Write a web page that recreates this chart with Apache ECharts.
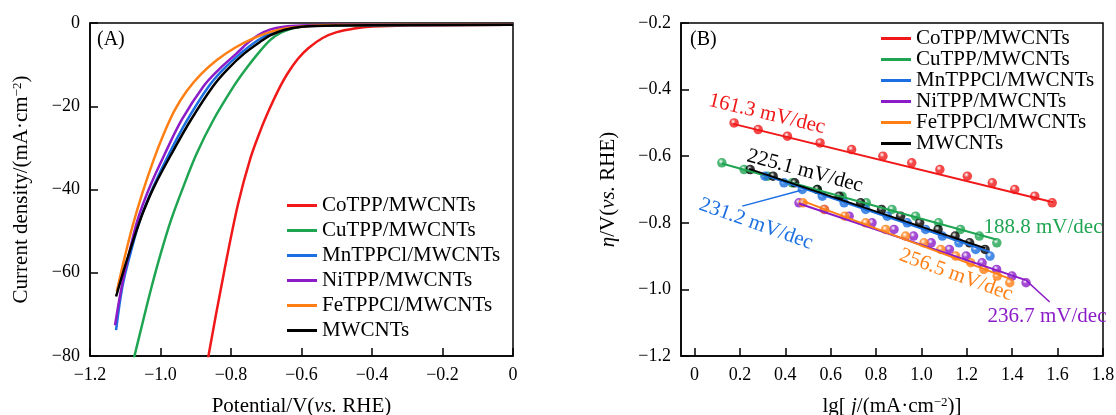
<!DOCTYPE html>
<html>
<head>
<meta charset="utf-8">
<script src="https://cdn.jsdelivr.net/npm/echarts@6/dist/echarts.min.js"></script>
<style>
html, body { margin: 0; padding: 0; background: #fff; }
#chart { width: 1116px; height: 415px; }
</style>
</head>
<body>
<div id="chart"></div>
<script>
// series names / colours (same order in both panels)
var names = ['CoTPP/MWCNTs', 'CuTPP/MWCNTs', 'MnTPPCl/MWCNTs', 'NiTPP/MWCNTs', 'FeTPPCl/MWCNTs', 'MWCNTs'];
var colors = ['#f01818', '#1fa552', '#1b6fe0', '#8c1cc8', '#ff7f14', '#000000'];

// (A) polarization curves: potential (V vs RHE) / current density (mA cm-2)
var coV = [-0.875, -0.864, -0.82, -0.78, -0.745, -0.715, -0.69, -0.665, -0.64, -0.61, -0.58, -0.54, -0.50, -0.45, -0.40, -0.30, 0];
var coJ = [-86, -80, -60, -43.5, -32.5, -25.5, -20.5, -16.0, -12.2, -8.6, -6.0, -3.6, -2.2, -1.3, -0.85, -0.6, -0.45];
var cuV = [-1.079, -1.049, -1.025, -0.999, -0.970, -0.935, -0.897, -0.850, -0.793, -0.760, -0.723, -0.689, -0.66, -0.63, -0.60, -0.55, 0];
var cuJ = [-81.8, -71.4, -63.3, -55.3, -47.3, -39.3, -31.3, -23.3, -15.3, -11.3, -7.3, -4.1, -2.4, -1.4, -0.9, -0.6, -0.4];
var mnV = [-1.126, -1.108, -1.085, -1.058, -1.020, -0.975, -0.924, -0.864, -0.824, -0.773, -0.723, -0.689, -0.65, -0.60, -0.50, 0];
var mnJ = [-73.8, -63.3, -55.3, -47.3, -39.3, -31.3, -23.3, -15.3, -11.3, -7.3, -4.1, -2.5, -1.4, -0.8, -0.55, -0.4];
var niV = [-1.129, -1.110, -1.089, -1.065, -1.030, -0.987, -0.940, -0.879, -0.836, -0.784, -0.75, -0.72, -0.69, -0.65, -0.60, -0.50, 0];
var niJ = [-72.6, -63.3, -55.3, -47.3, -39.3, -31.3, -23.3, -15.3, -11.3, -7.3, -4.6, -2.8, -1.6, -0.9, -0.6, -0.45, -0.4];
var feV = [-1.124, -1.112, -1.098, -1.080, -1.052, -1.020, -0.990, -0.960, -0.925, -0.885, -0.840, -0.790, -0.740, -0.690, -0.64, -0.58, -0.50, 0];
var feJ = [-64.5, -60, -55, -49, -41, -33, -26.5, -21, -16.3, -12.3, -8.9, -6.0, -3.8, -2.2, -1.2, -0.7, -0.5, -0.4];
var mwV = [-1.126, -1.100, -1.075, -1.050, -1.018, -0.968, -0.914, -0.852, -0.812, -0.762, -0.710, -0.689, -0.65, -0.60, -0.50, 0];
var mwJ = [-65.7, -58.2, -51.6, -45.6, -39.3, -31.3, -23.3, -15.3, -11.3, -7.3, -4.1, -3.0, -1.7, -0.9, -0.6, -0.4];

// (B) Tafel plots: lg j and overpotential
var coLg = [0.174, 0.280, 0.409, 0.553, 0.692, 0.830, 0.957, 1.081, 1.202, 1.312, 1.411, 1.499, 1.576];
var coEta = [-0.50, -0.52, -0.54, -0.56, -0.58, -0.60, -0.62, -0.64, -0.66, -0.68, -0.70, -0.72, -0.74];
var cuLg = [0.120, 0.218, 0.322, 0.430, 0.540, 0.650, 0.757, 0.870, 0.974, 1.075, 1.172, 1.255, 1.332];
var cuEta = [-0.62, -0.64, -0.66, -0.68, -0.70, -0.72, -0.74, -0.76, -0.78, -0.80, -0.82, -0.84, -0.86];
var mnLg = [0.310, 0.394, 0.475, 0.563, 0.659, 0.754, 0.849, 0.937, 1.018, 1.092, 1.165, 1.239, 1.302];
var mnEta = [-0.66, -0.68, -0.70, -0.72, -0.74, -0.76, -0.78, -0.80, -0.82, -0.84, -0.86, -0.88, -0.90];
var niLg = [0.460, 0.572, 0.681, 0.782, 0.879, 0.965, 1.043, 1.123, 1.197, 1.267, 1.331, 1.399, 1.461];
var niEta = [-0.74, -0.76, -0.78, -0.80, -0.82, -0.84, -0.86, -0.88, -0.90, -0.92, -0.94, -0.96, -0.98];
var feLg = [0.478, 0.572, 0.662, 0.754, 0.842, 0.930, 1.011, 1.085, 1.151, 1.217, 1.275, 1.334, 1.389];
var feEta = [-0.74, -0.76, -0.78, -0.80, -0.82, -0.84, -0.86, -0.88, -0.90, -0.92, -0.94, -0.96, -0.98];
var mwLg = [0.245, 0.346, 0.441, 0.541, 0.637, 0.732, 0.824, 0.908, 0.992, 1.073, 1.148, 1.212, 1.280];
var mwEta = [-0.64, -0.66, -0.68, -0.70, -0.72, -0.74, -0.76, -0.78, -0.80, -0.82, -0.84, -0.86, -0.88];

// fitted lines (end points)
var coFitLg = [0.17, 1.58], coFitEta = [-0.503, -0.738];
var cuFitLg = [0.12, 1.33], cuFitEta = [-0.622, -0.850];
var mnFitLg = [0.30, 1.30], mnFitEta = [-0.655, -0.887];
var niFitLg = [0.46, 1.46], niFitEta = [-0.742, -0.972];
var feFitLg = [0.478, 1.385], feFitEta = [-0.735, -0.967];
var mwFitLg = [0.24, 1.28], mwFitEta = [-0.638, -0.876];
// leader lines to the slope labels
var mnLeadLg = [0.21, 0.47], mnLeadEta = [-0.750, -0.702];
var niLeadLg = [1.46, 1.565], niLeadEta = [-0.972, -1.038];

var slopeLabels = ['161.3 mV/dec', '188.8 mV/dec', '231.2 mV/dec', '236.7 mV/dec', '256.5 mV/dec', '225.1 mV/dec'];
var tafelTicks = [0, 0.2, 0.4, 0.6, 0.8, 1.0, 1.2, 1.4, 1.6, 1.8];

var font = 'Liberation Serif';

function pairs(xs, ys) {
  return xs.map(function (x, i) { return [x, ys[i]]; });
}
function minus(s) { return String(s).replace('-', '\u2212'); }

var lsvV = [coV, cuV, mnV, niV, feV, mwV];
var lsvJ = [coJ, cuJ, mnJ, niJ, feJ, mwJ];
var tLg = [coLg, cuLg, mnLg, niLg, feLg, mwLg];
var tEta = [coEta, cuEta, mnEta, niEta, feEta, mwEta];
var fLg = [coFitLg, cuFitLg, mnFitLg, niFitLg, feFitLg, mwFitLg];
var fEta = [coFitEta, cuFitEta, mnFitEta, niFitEta, feFitEta, mwFitEta];

var axisCommon = {
  axisLine: { show: true, onZero: false, lineStyle: { color: '#000', width: 1.5 } },
  axisTick: { show: true, inside: true, length: 8, lineStyle: { color: '#000', width: 1.5 } },
  splitLine: { show: false },
  axisLabel: { color: '#000', fontFamily: font, fontSize: 18 }
};
var nameStyle = {
  color: '#000', fontFamily: font, fontSize: 21,
  rich: {
    n: { fontFamily: font, fontSize: 21, color: '#000' },
    i: { fontFamily: font, fontSize: 21, fontStyle: 'italic', color: '#000' },
    s: { fontFamily: font, fontSize: 13, color: '#000', verticalAlign: 'top' }
  }
};
function ax(extra) {
  return Object.assign({}, JSON.parse(JSON.stringify(axisCommon)), extra);
}

var series = [];
for (var k = 0; k < 6; k++) {
  series.push({
    name: names[k], type: 'line', xAxisIndex: 0, yAxisIndex: 0,
    data: pairs(lsvV[k], lsvJ[k]), showSymbol: false, smooth: 0.35,
    color: colors[k], lineStyle: { width: 2.5, color: colors[k] }
  });
}
for (var k = 0; k < 6; k++) {
  series.push({
    name: names[k], type: 'line', xAxisIndex: 1, yAxisIndex: 1,
    data: pairs(fLg[k], fEta[k]), showSymbol: false,
    color: colors[k], lineStyle: { width: 2, color: colors[k] }
  });
  series.push({
    name: names[k], type: 'scatter', xAxisIndex: 1, yAxisIndex: 1,
    data: pairs(tLg[k], tEta[k]), symbolSize: 9.5,
    itemStyle: {
      color: {
        type: 'radial', x: 0.4, y: 0.35, r: 0.6,
        colorStops: [{ offset: 0, color: '#ffffff' }, { offset: 0.45, color: colors[k] }, { offset: 1, color: colors[k] }]
      }
    }
  });
}
series.push({ type: 'line', xAxisIndex: 1, yAxisIndex: 1, data: pairs(mnLeadLg, mnLeadEta), showSymbol: false, lineStyle: { width: 1.5, color: colors[2] } });
series.push({ type: 'line', xAxisIndex: 1, yAxisIndex: 1, data: pairs(niLeadLg, niLeadEta), showSymbol: false, lineStyle: { width: 1.5, color: colors[3] } });

function deg(d) { return d * Math.PI / 180; }
function slopeText(txt, color, x, y, rot) {
  return {
    type: 'text', x: x, y: y, rotation: deg(rot),
    style: { text: txt, fill: color, font: '21px "' + font + '"', align: 'center', verticalAlign: 'middle' }
  };
}

var legendCommon = {
  data: names, orient: 'vertical', icon: 'rect', itemWidth: 30, itemHeight: 3,
  selectedMode: false, padding: 0,
  textStyle: { color: '#000', fontFamily: font, fontSize: 21, lineHeight: 20 }
};

var option = {
  animation: false,
  backgroundColor: '#fff',
  grid: [
    { left: 90, top: 23, width: 423, height: 333, show: true, borderColor: '#000', borderWidth: 1.5, outerBoundsMode: 'none' },
    { left: 681, top: 23, width: 422, height: 333, show: true, borderColor: '#000', borderWidth: 1.5, outerBoundsMode: 'none' }
  ],
  legend: [
    Object.assign({}, legendCommon, { left: 287, top: 195, itemGap: 4 }),
    Object.assign({}, legendCommon, { left: 881, top: 28, itemGap: 0 })
  ],
  xAxis: [
    ax({
      type: 'value', gridIndex: 0, min: -1.2, max: 0, interval: 0.2,
      name: '{n|Potential/V(}{i|vs.}{n| RHE)}', nameLocation: 'middle', nameGap: 40, nameTextStyle: nameStyle,
      axisLabel: { color: '#000', fontFamily: font, fontSize: 18, margin: 10,
        formatter: function (v) { return v === 0 ? '0' : minus(v.toFixed(1)); } }
    }),
    ax({
      type: 'value', gridIndex: 1, min: -0.06, max: 1.8,
      name: '{n|lg[ }{i|j}{n|/(mA\u00b7cm}{s|\u22122}{n|)]}', nameLocation: 'middle', nameGap: 40, nameTextStyle: nameStyle,
      axisTick: { show: true, inside: true, length: 8, customValues: tafelTicks, lineStyle: { color: '#000', width: 1.5 } },
      axisLabel: { color: '#000', fontFamily: font, fontSize: 18, margin: 10, customValues: tafelTicks,
        formatter: function (v) { return v === 0 ? '0' : v.toFixed(1); } }
    })
  ],
  yAxis: [
    ax({
      type: 'value', gridIndex: 0, min: -80, max: 0, interval: 20,
      name: '{n|Current density/(mA\u00b7cm}{s|\u22122}{n|)}', nameLocation: 'middle', nameGap: 58, nameTextStyle: nameStyle,
      axisLabel: { color: '#000', fontFamily: font, fontSize: 18, margin: 10,
        formatter: function (v) { return minus(v); } }
    }),
    ax({
      type: 'value', gridIndex: 1, min: -1.2, max: -0.2, interval: 0.2,
      name: '{i|\u03b7}{n|/V(}{i|vs.}{n| RHE)}', nameLocation: 'middle', nameGap: 62, nameTextStyle: nameStyle,
      axisLabel: { color: '#000', fontFamily: font, fontSize: 18, margin: 10,
        formatter: function (v) { return minus(v.toFixed(1)); } }
    })
  ],
  graphic: [
    { type: 'text', x: 97, y: 40, style: { text: '(A)', fill: '#000', font: '20px "' + font + '"', verticalAlign: 'middle' } },
    { type: 'text', x: 690, y: 40, style: { text: '(B)', fill: '#000', font: '20px "' + font + '"', verticalAlign: 'middle' } },
    slopeText(slopeLabels[0], colors[0], 767, 114, -13.5),
    slopeText(slopeLabels[1], colors[1], 1043, 227, 0),
    slopeText(slopeLabels[2], colors[2], 756, 224, -19.5),
    slopeText(slopeLabels[3], colors[3], 1047, 316, 0),
    slopeText(slopeLabels[4], colors[4], 956, 275, -20),
    slopeText(slopeLabels[5], colors[5], 805, 171, -15)
  ],
  series: series
};

var chart = echarts.init(document.getElementById('chart'), null, { renderer: 'canvas' });
chart.setOption(option);
</script>
</body>
</html>
